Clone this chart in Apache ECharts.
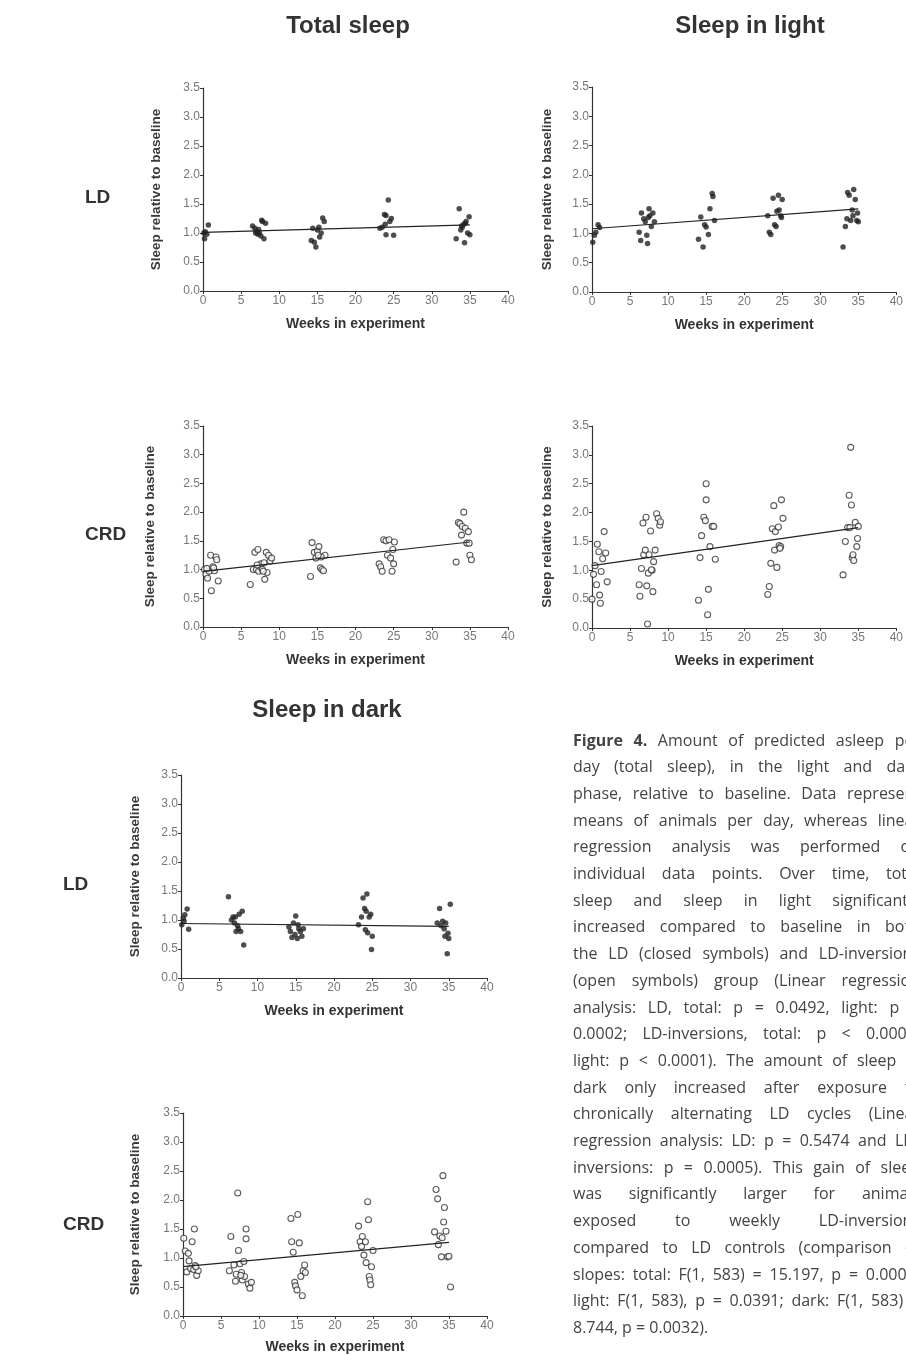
<!DOCTYPE html>
<html><head><meta charset="utf-8">
<script src="https://cdn.jsdelivr.net/npm/echarts@6/dist/echarts.min.js"></script>
<style>
html,body{margin:0;padding:0;background:#fff;width:906px;height:1355px;overflow:hidden;}
#chart{position:absolute;left:0;top:0;width:906px;height:1355px;}
#caption{position:absolute;left:573px;top:0;width:347px;font-family:"Open Sans",sans-serif;font-size:16px;color:#444;}
#caption div{position:absolute;left:0;width:347px;height:27px;line-height:27px;white-space:nowrap;text-align:justify;text-align-last:justify;}
#caption div.last{text-align-last:left;}
</style></head>
<body>
<div id="chart"></div>
<div id="caption"></div>
<script>
// ---- data ----
const xTicks = [0,5,10,15,20,25,30,35,40];
const yTicks = ['0.0','0.5','1.0','1.5','2.0','2.5','3.0','3.5'];
const panelTitles = ['Total sleep','Sleep in light','Sleep in dark'];
const rowLabels = ['LD','CRD','LD','CRD'];
const yName = 'Sleep relative to baseline';
const xName = 'Weeks in experiment';

const totalLD = [[0.1,1.0],[0.2,0.9],[0.3,1.02],[0.5,0.98],[0.7,1.14],
 [6.5,1.12],[6.8,1.08],[7.0,1.03],[7.2,0.98],[7.4,1.0],[7.6,0.95],[7.8,1.2],[8.0,0.9],[8.2,1.17],[7.3,1.06],[6.9,1.0],[7.7,1.22],
 [14.2,0.87],[14.6,0.84],[14.8,0.76],[15.0,1.05],[15.2,1.1],[15.5,1.0],[15.7,1.26],[15.9,1.2],[14.4,1.08],[15.3,0.93],
 [23.2,1.08],[23.5,1.1],[23.8,1.32],[24.0,1.3],[24.3,1.57],[24.5,1.2],[24.7,1.25],[24.0,0.97],[25.0,0.96],[23.9,1.15],
 [33.2,0.9],[33.6,1.42],[33.8,1.05],[34.0,1.1],[34.2,1.15],[34.3,0.83],[34.5,1.2],[34.7,1.0],[34.9,1.28],[35.0,0.97],[34.4,1.17],[33.9,1.12]];
const totalLDFit = [[0,1.01],[35,1.14]];

const lightLD = [[0.1,0.85],[0.3,0.97],[0.5,1.02],[0.8,1.15],[1.0,1.1],
 [6.2,1.02],[6.4,0.88],[6.5,1.35],[6.8,1.25],[7.0,1.2],[7.2,0.97],[7.3,0.83],[7.5,1.42],[7.6,1.3],[7.8,1.12],[8.0,1.35],[8.2,1.2],[7.4,1.27],
 [14.0,0.9],[14.3,1.28],[14.6,0.77],[14.8,1.15],[15.0,1.11],[15.3,0.98],[15.5,1.42],[15.8,1.68],[15.9,1.63],[16.1,1.22],
 [23.1,1.3],[23.3,1.02],[23.5,0.98],[23.8,1.6],[24.0,1.15],[24.2,1.12],[24.3,1.38],[24.5,1.65],[24.6,1.4],[24.8,1.3],[25.0,1.58],[24.9,1.27],
 [33.0,0.77],[33.3,1.12],[33.5,1.25],[33.6,1.7],[33.8,1.65],[34.0,1.22],[34.2,1.4],[34.4,1.75],[34.6,1.58],[34.8,1.22],[34.9,1.35],[35.0,1.2],[34.3,1.3]];
const lightLDFit = [[0,1.08],[35,1.42]];

const totalCRD = [[0.2,1.0],[0.4,0.92],[0.6,0.85],[0.8,0.97],[1.0,1.25],[1.1,0.63],[1.3,1.05],[1.5,0.98],[1.7,1.22],[1.8,1.17],[2.0,0.8],[1.4,1.03],[0.5,1.02],
 [6.2,0.74],[6.6,1.0],[6.8,1.3],[7.0,1.0],[7.2,1.35],[7.3,0.97],[7.5,1.05],[7.6,1.1],[7.8,1.0],[8.0,1.12],[8.1,0.83],[8.3,1.3],[8.4,0.95],[8.6,1.25],[8.8,1.15],[9.0,1.2],[7.9,0.97],[7.1,1.08],
 [14.1,0.88],[14.3,1.47],[14.6,1.3],[14.8,1.2],[15.0,1.32],[15.2,1.4],[15.4,1.03],[15.6,1.0],[15.8,0.98],[16.0,1.25],[15.5,1.22],[15.1,1.25],
 [23.1,1.1],[23.3,1.05],[23.5,0.97],[23.7,1.52],[24.0,1.5],[24.2,1.25],[24.4,1.52],[24.6,1.2],[24.8,0.97],[24.9,1.35],[25.0,1.1],[25.1,1.48],
 [33.2,1.13],[33.5,1.82],[33.7,1.8],[33.9,1.6],[34.0,1.75],[34.2,2.0],[34.4,1.72],[34.6,1.46],[34.8,1.66],[34.9,1.46],[35.0,1.25],[35.2,1.17]];
const totalCRDFit = [[0,0.97],[35,1.48]];

const lightCRD = [[0.0,0.5],[0.2,0.93],[0.4,1.08],[0.6,0.75],[0.7,1.45],[0.9,1.32],[1.0,0.57],[1.1,0.43],[1.2,0.98],[1.4,1.2],[1.6,1.67],[1.8,1.3],[2.0,0.8],
 [6.2,0.75],[6.3,0.55],[6.5,1.03],[6.7,1.82],[6.8,1.27],[7.0,1.35],[7.1,1.92],[7.2,0.73],[7.3,0.07],[7.4,0.95],[7.5,1.27],[7.7,1.68],[7.9,1.0],[8.0,0.63],[8.1,1.15],[8.3,1.35],[8.5,1.98],[8.7,1.9],[8.9,1.78],[9.0,1.84],[7.8,1.01],
 [14.0,0.48],[14.2,1.22],[14.4,1.6],[14.7,1.92],[14.9,1.86],[15.0,2.5],[15.0,2.22],[15.3,0.67],[15.2,0.23],[15.5,1.41],[15.8,1.76],[16.0,1.76],[16.2,1.19],
 [23.1,0.58],[23.3,0.72],[23.5,1.12],[23.7,1.72],[23.9,2.12],[24.0,1.35],[24.1,1.67],[24.3,1.05],[24.5,1.75],[24.6,1.43],[24.8,1.41],[24.9,2.22],[25.1,1.9],[24.7,1.38],
 [33.0,0.92],[33.3,1.5],[33.6,1.74],[33.8,2.3],[33.9,1.74],[34.0,3.13],[34.1,2.13],[34.2,1.22],[34.3,1.27],[34.4,1.17],[34.6,1.83],[34.8,1.41],[34.9,1.55],[35.0,1.76]];
const lightCRDFit = [[0,1.08],[35,1.74]];

const darkLD = [[0.1,0.92],[0.3,1.03],[0.5,1.09],[0.8,1.19],[1.0,0.84],[0.4,0.98],
 [6.2,1.4],[6.6,1.0],[6.8,1.05],[7.0,0.95],[7.2,0.8],[7.4,0.9],[7.6,1.1],[7.8,0.8],[8.0,1.15],[8.2,0.57],[7.5,0.85],[7.1,1.05],
 [14.1,0.88],[14.3,0.8],[14.5,0.7],[14.7,0.95],[14.9,0.75],[15.0,1.07],[15.2,0.68],[15.4,0.85],[15.6,0.8],[15.8,0.72],[16.0,0.85],[15.3,0.92],
 [23.2,0.92],[23.6,1.05],[23.8,1.38],[24.0,1.2],[24.1,0.83],[24.3,1.45],[24.4,0.78],[24.6,1.05],[24.8,1.1],[25.0,0.72],[24.9,0.49],[24.2,1.15],
 [33.5,0.95],[33.8,1.2],[34.0,0.9],[34.2,0.98],[34.4,0.85],[34.5,0.72],[34.6,0.95],[34.8,0.42],[35.0,0.68],[35.2,1.27],[34.9,0.77]];
const darkLDFit = [[0,0.94],[35,0.89]];

const darkCRD = [[0.1,1.34],[0.3,1.12],[0.5,0.76],[0.7,1.08],[0.8,0.95],[1.0,0.82],[1.2,1.28],[1.4,0.8],[1.5,1.5],[1.6,0.87],[1.8,0.7],[2.0,0.78],[1.7,0.85],
 [6.1,0.78],[6.3,1.37],[6.7,0.88],[6.9,0.6],[7.0,0.72],[7.2,2.12],[7.3,1.13],[7.5,0.9],[7.7,0.75],[7.8,0.62],[8.0,0.94],[8.1,0.68],[8.3,1.33],[8.3,1.5],[8.6,0.55],[8.8,0.48],[9.0,0.58],[7.6,0.7],
 [14.2,1.68],[14.3,1.28],[14.5,1.1],[14.7,0.58],[14.8,0.52],[15.0,0.45],[15.1,1.75],[15.3,1.26],[15.5,0.68],[15.7,0.35],[15.8,0.78],[16.0,0.88],[16.1,0.75],
 [23.1,1.55],[23.3,1.28],[23.5,1.2],[23.6,1.37],[23.8,1.05],[24.0,1.28],[24.1,0.92],[24.3,1.97],[24.4,1.66],[24.5,0.68],[24.6,0.62],[24.7,0.54],[24.8,0.85],[25.0,1.13],
 [33.1,1.45],[33.3,2.18],[33.5,2.02],[33.6,1.23],[33.8,1.38],[34.0,1.02],[34.2,2.42],[34.3,1.62],[34.4,1.87],[34.6,1.46],[34.8,1.02],[35.0,1.03],[35.2,0.5],[34.1,1.35]];
const darkCRDFit = [[0,0.85],[35,1.27]];

const captionLines = [
 '<b>Figure 4.</b> Amount of predicted asleep per',
 'day (total sleep), in the light and dark',
 'phase, relative to baseline. Data represent',
 'means of animals per day, whereas linear',
 'regression analysis was performed on',
 'individual data points. Over time, total',
 'sleep and sleep in light significantly',
 'increased compared to baseline in both',
 'the LD (closed symbols) and LD-inversions',
 '(open symbols) group (Linear regression',
 'analysis: LD, total: p = 0.0492, light: p =',
 '0.0002; LD-inversions, total: p &lt; 0.0001,',
 'light: p &lt; 0.0001). The amount of sleep in',
 'dark only increased after exposure to',
 'chronically alternating LD cycles (Linear',
 'regression analysis: LD: p = 0.5474 and LD-',
 'inversions: p = 0.0005). This gain of sleep',
 'was significantly larger for animals',
 'exposed to weekly LD-inversions',
 'compared to LD controls (comparison of',
 'slopes: total: F(1, 583) = 15.197, p = 0.0001;',
 'light: F(1, 583), p = 0.0391; dark: F(1, 583) =',
 '8.744, p = 0.0032).'
];

// ---- layout ----
const panels = [
 {pts: totalLD,  fit: totalLDFit,  open:false, g:{left:203,top:88,width:305,height:203},  yGap:40, xGap:26},
 {pts: lightLD,  fit: lightLDFit,  open:false, g:{left:592,top:87,width:305,height:205},  yGap:38, xGap:26},
 {pts: totalCRD, fit: totalCRDFit, open:true,  g:{left:203,top:426,width:305,height:201}, yGap:46, xGap:26},
 {pts: lightCRD, fit: lightCRDFit, open:true,  g:{left:592,top:426,width:305,height:202}, yGap:38, xGap:26},
 {pts: darkLD,   fit: darkLDFit,   open:false, g:{left:181,top:775,width:306,height:203}, yGap:39, xGap:26},
 {pts: darkCRD,  fit: darkCRDFit,  open:true,  g:{left:183,top:1113,width:304,height:203},yGap:41, xGap:24}
];
const FONT = '"Liberation Sans", Arial, sans-serif';
const ink = '#222';

const grid=[], xAxis=[], yAxis=[], series=[];
panels.forEach((p,i)=>{
  grid.push(Object.assign({containLabel:false}, p.g));
  xAxis.push({type:'value', gridIndex:i, min:xTicks[0], max:xTicks[xTicks.length-1], interval:5,
    name:xName, nameLocation:'middle', nameGap:p.xGap,
    nameTextStyle:{fontFamily:FONT,fontSize:14,fontWeight:'bold',color:'#333'},
    axisLine:{show:true,onZero:false,lineStyle:{color:'#333',width:1.2}},
    axisTick:{show:true,length:3,lineStyle:{color:'#333'}},
    axisLabel:{fontFamily:FONT,fontSize:12,color:'#777',margin:4},
    splitLine:{show:false}});
  yAxis.push({type:'value', gridIndex:i, min:0, max:3.5, interval:0.5,
    name:yName, nameLocation:'middle', nameGap:p.yGap, nameRotate:90,
    nameTextStyle:{fontFamily:FONT,fontSize:13.5,fontWeight:'bold',color:'#3a3a3a'},
    axisLine:{show:true,onZero:false,lineStyle:{color:'#333',width:1.2}},
    axisTick:{show:true,length:3,lineStyle:{color:'#333'}},
    axisLabel:{fontFamily:FONT,fontSize:12,color:'#777',margin:3,formatter:v=>yTicks[Math.round(v*2)]},
    splitLine:{show:false}});
  series.push({type:'scatter', xAxisIndex:i, yAxisIndex:i, data:p.pts,
    symbol:'circle', symbolSize:p.open?6:5.5,
    itemStyle: p.open ? {color:'#fff',borderColor:'#333',borderWidth:1.1} : {color:ink,borderWidth:0},
    silent:true, z:2});
  series.push({type:'line', xAxisIndex:i, yAxisIndex:i, data:p.fit, showSymbol:false, symbol:'none',
    lineStyle:{color:ink,width:1.2}, silent:true, z:3, animation:false});
});

const titlePos = [[343,21],[745,21],[322,705]];
const title = panelTitles.map((t,i)=>({text:t, left:titlePos[i][0], top:titlePos[i][1]-12, textAlign:'center',
  textStyle:{fontFamily:FONT,fontSize:24,fontWeight:'bold',color:'#333'}}));

const rowPos = [[85,198],[85,535],[63,885],[63,1225]];
const graphic = rowLabels.map((t,i)=>({type:'text', left:rowPos[i][0], top:rowPos[i][1]-10,
  style:{text:t, font:'bold 19px '+FONT, fill:'#333'}}));

const chart = echarts.init(document.getElementById('chart'), null, {renderer:'canvas'});
chart.setOption({animation:false, backgroundColor:'#fff', title, grid, xAxis, yAxis, series, graphic});

const cap = document.getElementById('caption');
captionLines.forEach((t,i)=>{
  const d=document.createElement('div');
  d.innerHTML=t;
  d.style.top=(740+i*26.7-13.5)+'px';
  if(i===captionLines.length-1) d.className='last';
  cap.appendChild(d);
});
</script>
</body></html>
